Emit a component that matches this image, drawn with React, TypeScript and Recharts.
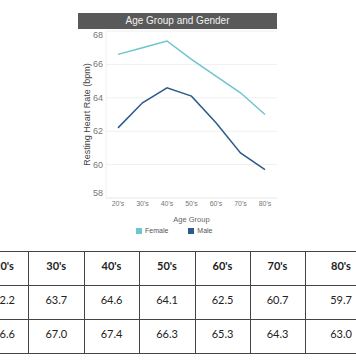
import { LineChart, Line, XAxis, YAxis, CartesianGrid, Legend } from "recharts";

const ageGroups = ["20's", "30's", "40's", "50's", "60's", "70's", "80's"];
const maleBpm = [62.2, 63.7, 64.6, 64.1, 62.5, 60.7, 59.7];
const femaleBpm = [66.6, 67.0, 67.4, 66.3, 65.3, 64.3, 63.0];
const yTicks = [58, 60, 62, 64, 66, 68];

const FEMALE = "#6cc5d1";
const MALE = "#2b5b8c";
const FONT = '"Liberation Sans", Arial, sans-serif';

const chartData = ageGroups.map((age, i) => ({
  age,
  Female: femaleBpm[i],
  Male: maleBpm[i],
}));

// table rows reuse the same arrays
const tableRows = [maleBpm, femaleBpm];
const colWidths = [49, 55.5, 55, 56, 55, 55, 72];

// y tick labels; the end ones sit a bit inside the plot like the original
function YTick(props: any) {
  const { x, y, payload } = props;
  const ty = Math.min(Math.max(y, 35), 193);
  return (
    <text
      x={x}
      y={ty}
      dy={3}
      textAnchor="end"
      fontSize={9}
      fill="#777"
      fontFamily={FONT}
    >
      {payload.value}
    </text>
  );
}

function LegendContent(props: any) {
  const items = props.payload || [];
  return (
    <div style={{ display: "flex", gap: 20, fontSize: 7, color: "#555", fontFamily: FONT }}>
      {items.map((it: any) => (
        <span key={it.value} style={{ display: "flex", alignItems: "center" }}>
          <span
            style={{
              display: "inline-block",
              width: 6,
              height: 6,
              background: it.color,
              marginRight: 3,
            }}
          />
          {it.value}
        </span>
      ))}
    </div>
  );
}

export default function App() {
  const cell: React.CSSProperties = {
    border: "1px solid #444",
    textAlign: "center",
    verticalAlign: "top",
    padding: "7px 0 0 0",
    height: 34,
    boxSizing: "border-box",
    lineHeight: "14px",
  };

  return (
    <div
      style={{
        position: "absolute",
        left: 0,
        top: 0,
        width: 356,
        height: 364,
        overflow: "hidden",
        background: "#fff",
        fontFamily: FONT,
      }}
    >
      {/* title bar */}
      <div
        style={{
          position: "absolute",
          left: 78,
          top: 13,
          width: 199,
          height: 16,
          background: "#595959",
          color: "#f2f2f2",
          fontSize: 10,
          lineHeight: "16px",
          textAlign: "center",
        }}
      >
        Age Group and Gender
      </div>

      <div style={{ position: "absolute", left: 0, top: 0 }}>
        <LineChart
          width={356}
          height={244}
          data={chartData}
          margin={{ top: 31, right: 79, left: 0, bottom: 12 }}
        >
          <CartesianGrid vertical={false} stroke="#f0f0f0" />
          <XAxis
            dataKey="age"
            height={34}
            padding={{ left: 12, right: 12 }}
            tick={{ fontSize: 7, fill: "#777", fontFamily: FONT }}
            tickLine={false}
            tickSize={0}
            tickMargin={3}
            axisLine={{ stroke: "#eeeeee" }}
            label={{
              value: "Age Group",
              position: "insideBottom",
              offset: 10,
              fontSize: 7.5,
              fill: "#666",
              fontFamily: FONT,
            }}
          />
          <YAxis
            width={106}
            domain={[58, 68]}
            ticks={yTicks}
            tick={<YTick />}
            tickLine={false}
            tickSize={1}
            tickMargin={2}
            axisLine={{ stroke: "#f0f0f0" }}
            label={{
              value: "Resting Heart Rate (bpm)",
              angle: -90,
              position: "insideLeft",
              offset: 87,
              fontSize: 9,
              fill: "#444",
              fontFamily: FONT,
              style: { textAnchor: "middle" },
            }}
          />
          <Legend
            layout="horizontal"
            verticalAlign="middle"
            align="center"
            content={<LegendContent />}
            wrapperStyle={{ left: 136, top: 227, width: "auto" }}
          />
          <Line
            type="linear"
            dataKey="Female"
            stroke={FEMALE}
            strokeWidth={1.5}
            dot={false}
            isAnimationActive={false}
          />
          <Line
            type="linear"
            dataKey="Male"
            stroke={MALE}
            strokeWidth={1.5}
            dot={false}
            isAnimationActive={false}
          />
        </LineChart>
      </div>

      {/* data table below the chart */}
      <table
        style={{
          position: "absolute",
          left: -21,
          top: 251,
          borderCollapse: "collapse",
          tableLayout: "fixed",
          width: colWidths.reduce((a, b) => a + b, 0),
          fontFamily: 'Lato, "Open Sans", sans-serif',
          fontSize: 11,
          color: "#222",
        }}
      >
        <colgroup>
          {colWidths.map((w, i) => (
            <col key={i} style={{ width: w }} />
          ))}
        </colgroup>
        <tbody>
          <tr>
            {ageGroups.map((a) => (
              <td key={a} style={{ ...cell, fontWeight: 700 }}>
                {a}
              </td>
            ))}
          </tr>
          {tableRows.map((row, r) => (
            <tr key={r}>
              {row.map((v, i) => (
                <td key={i} style={cell}>
                  {v.toFixed(1)}
                </td>
              ))}
            </tr>
          ))}
        </tbody>
      </table>
    </div>
  );
}
